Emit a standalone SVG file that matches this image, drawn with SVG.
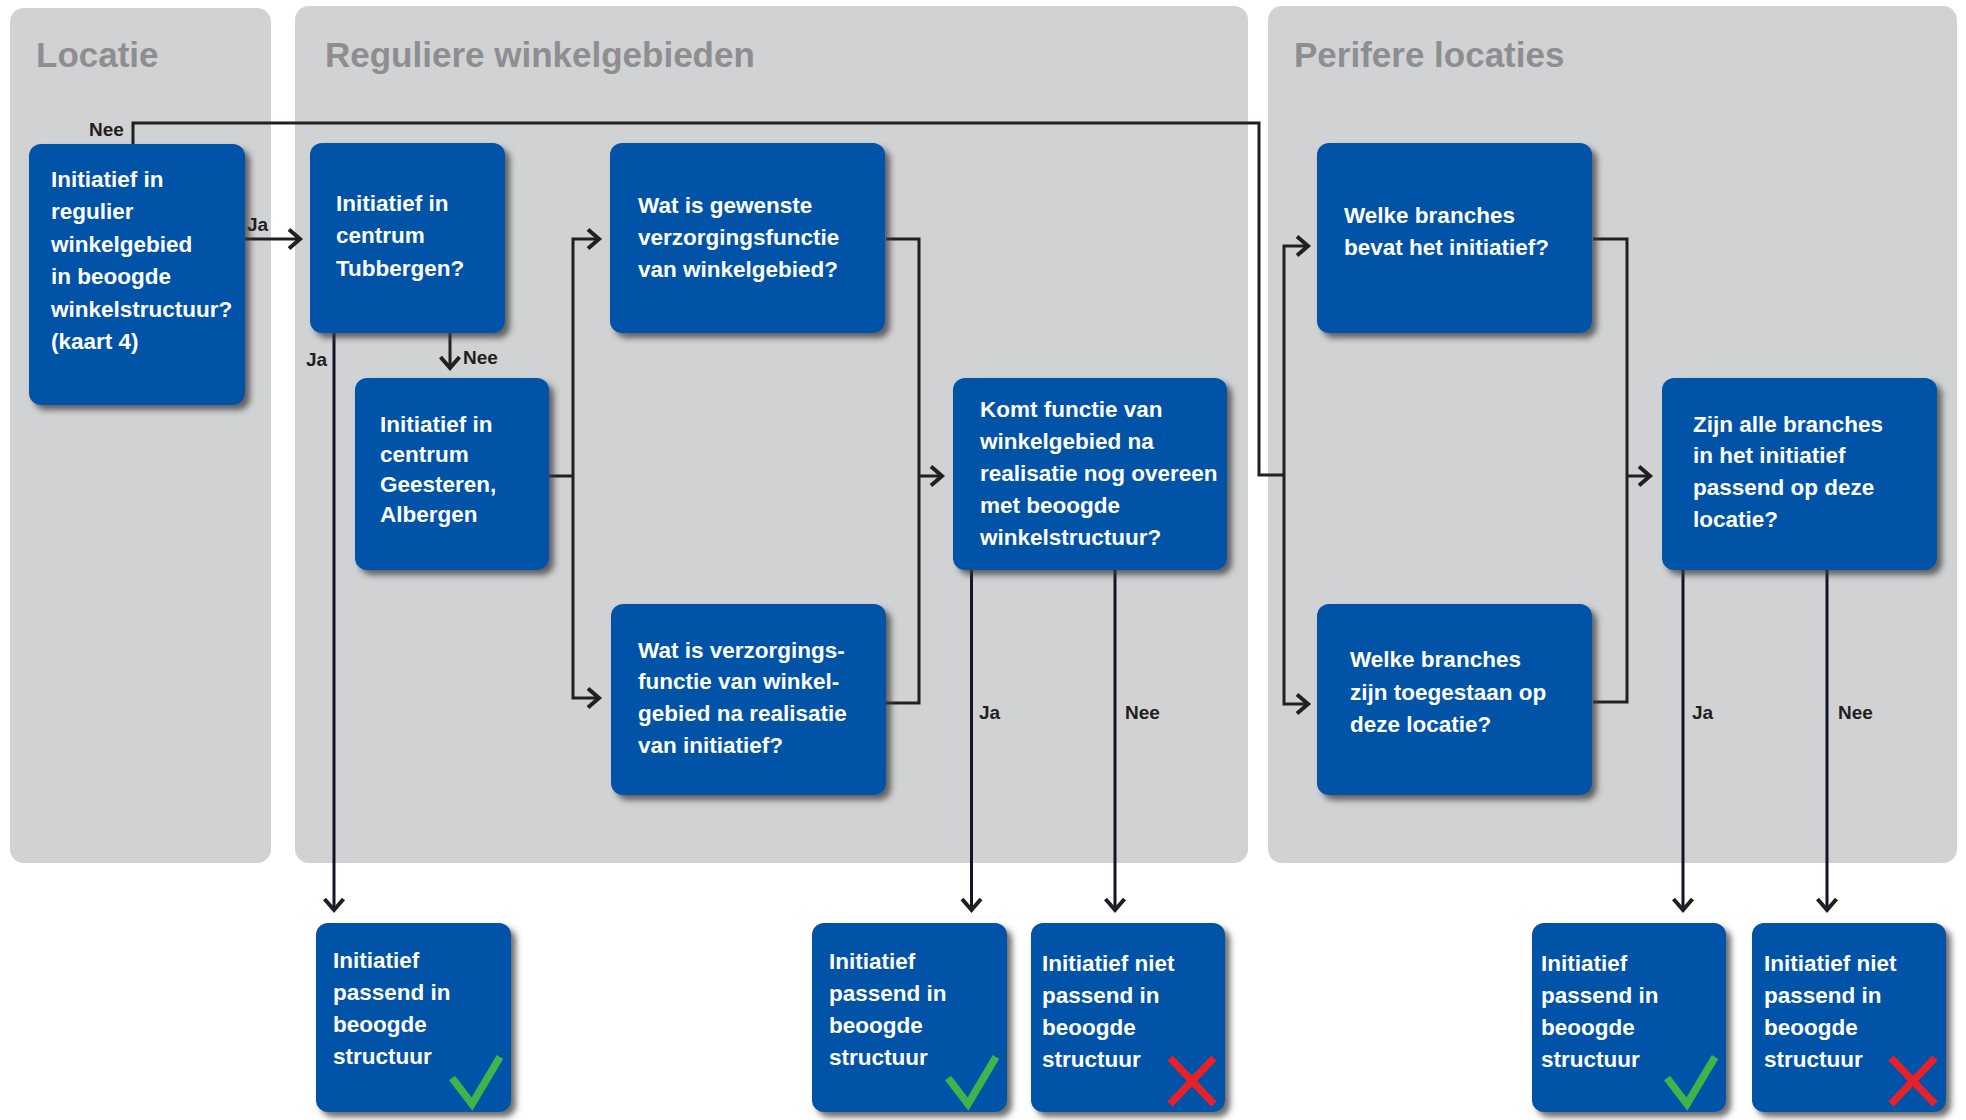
<svg xmlns="http://www.w3.org/2000/svg" width="1966" height="1120" viewBox="0 0 1966 1120">
<defs>
<style>
.panel{fill:#d1d2d4}
.title{font-family:"Liberation Sans",Arial,sans-serif;font-weight:bold;font-size:35px;fill:#8d8e90}
.box{fill:#0453a6;filter:url(#sh)}
.bt{font-family:"Liberation Sans",Arial,sans-serif;font-weight:bold;font-size:22.5px;fill:#ffffff}
.lbl{font-family:"Liberation Sans",Arial,sans-serif;font-weight:bold;font-size:19px;fill:#231f20}
.ln{fill:none;stroke:#231f20;stroke-width:3}
.lnd{fill:none;stroke:#15152a;stroke-width:3}
.arr{marker-end:url(#ah)}
.ok{fill:none;stroke:#3db54a;stroke-width:7.5;stroke-linejoin:miter}
.no{fill:none;stroke:#e6212a;stroke-width:7.5}
</style>
<filter id="sh" x="-10%" y="-10%" width="125%" height="125%">
<feDropShadow dx="5" dy="5" stdDeviation="3" flood-color="#3a3a3a" flood-opacity="0.75"/>
</filter>
<marker id="ah" viewBox="-14 -12 18 24" markerWidth="18" markerHeight="24" refX="0" refY="0" orient="auto-start-reverse" markerUnits="userSpaceOnUse">
<path d="M-11,-9.5 L0,0 L-11,9.5" fill="none" stroke="#231f20" stroke-width="4"/>
</marker>
<g id="check"><polyline class="ok" points="-59,-34 -39,-8 -11,-55"/></g>
<g id="cross"><path class="no" d="M-55,-54 L-11,-8 M-11,-54 L-55,-8"/></g>
</defs>

<g id="panels">
<rect class="panel" x="10" y="8" width="261" height="855" rx="14"/>
<rect class="panel" x="295" y="6" width="953" height="857" rx="14"/>
<rect class="panel" x="1268" y="6" width="689" height="857" rx="14"/>
<text class="title" x="36" y="67">Locatie</text>
<text class="title" x="325" y="67">Reguliere winkelgebieden</text>
<text class="title" x="1294" y="67">Perifere locaties</text>
</g>

<g id="connectors">
<path class="ln arr" d="M245,239 H300"/>
<text class="lbl" x="247" y="231">Ja</text>
<path class="ln" d="M133,144 V123 H1259 V475 H1284"/>
<text class="lbl" x="89" y="136">Nee</text>
<path class="lnd arr" d="M334,333 V910"/>
<text class="lbl" x="306" y="366">Ja</text>
<path class="ln arr" d="M450,333 V368"/>
<text class="lbl" x="463" y="364">Nee</text>
<path class="ln" d="M549,476 H573"/>
<path class="ln" d="M599,239 H573 V698 H599" marker-start="url(#ah)" marker-end="url(#ah)"/>
<path class="ln" d="M886,239 H919 V703 H886"/>
<path class="ln arr" d="M919,476 H942"/>
<path class="lnd arr" d="M971.5,570 V910"/>
<text class="lbl" x="979" y="719">Ja</text>
<path class="lnd arr" d="M1115,570 V910"/>
<text class="lbl" x="1125" y="719">Nee</text>
<path class="ln" d="M1308,246 H1284 V704 H1308" marker-start="url(#ah)" marker-end="url(#ah)"/>
<path class="ln" d="M1593,239 H1627 V702 H1593"/>
<path class="ln arr" d="M1627,476 H1650"/>
<path class="lnd arr" d="M1683,570 V910"/>
<text class="lbl" x="1692" y="719">Ja</text>
<path class="lnd arr" d="M1827,570 V910"/>
<text class="lbl" x="1838" y="719">Nee</text>
</g>

<g id="nodeA">
<rect class="box" x="29" y="144" width="216" height="261" rx="12"/>
<text class="bt"><tspan x="51" y="187">Initiatief in</tspan><tspan x="51" y="219">regulier</tspan><tspan x="51" y="252">winkelgebied</tspan><tspan x="51" y="284">in beoogde</tspan><tspan x="51" y="317">winkelstructuur?</tspan><tspan x="51" y="349">(kaart 4)</tspan></text>
</g>
<g id="nodeB">
<rect class="box" x="310" y="143" width="195" height="190" rx="12"/>
<text class="bt"><tspan x="336" y="211">Initiatief in</tspan><tspan x="336" y="243">centrum</tspan><tspan x="336" y="276">Tubbergen?</tspan></text>
</g>
<g id="nodeC">
<rect class="box" x="355" y="378" width="194" height="192" rx="12"/>
<text class="bt"><tspan x="380" y="432">Initiatief in</tspan><tspan x="380" y="462">centrum</tspan><tspan x="380" y="492">Geesteren,</tspan><tspan x="380" y="522">Albergen</tspan></text>
</g>
<g id="nodeD">
<rect class="box" x="610" y="143" width="275" height="190" rx="12"/>
<text class="bt"><tspan x="638" y="213">Wat is gewenste</tspan><tspan x="638" y="245">verzorgingsfunctie</tspan><tspan x="638" y="277">van winkelgebied?</tspan></text>
</g>
<g id="nodeE">
<rect class="box" x="611" y="604" width="275" height="191" rx="12"/>
<text class="bt"><tspan x="638" y="658">Wat is verzorgings-</tspan><tspan x="638" y="689">functie van winkel-</tspan><tspan x="638" y="721">gebied na realisatie</tspan><tspan x="638" y="753">van initiatief?</tspan></text>
</g>
<g id="nodeF">
<rect class="box" x="953" y="378" width="274" height="192" rx="12"/>
<text class="bt"><tspan x="980" y="417">Komt functie van</tspan><tspan x="980" y="449">winkelgebied na</tspan><tspan x="980" y="481">realisatie nog overeen</tspan><tspan x="980" y="513">met beoogde</tspan><tspan x="980" y="545">winkelstructuur?</tspan></text>
</g>
<g id="nodeG">
<rect class="box" x="1317" y="143" width="275" height="190" rx="12"/>
<text class="bt"><tspan x="1344" y="223">Welke branches</tspan><tspan x="1344" y="255">bevat het initiatief?</tspan></text>
</g>
<g id="nodeH">
<rect class="box" x="1317" y="604" width="275" height="191" rx="12"/>
<text class="bt"><tspan x="1350" y="667">Welke branches</tspan><tspan x="1350" y="700">zijn toegestaan op</tspan><tspan x="1350" y="732">deze locatie?</tspan></text>
</g>
<g id="nodeI">
<rect class="box" x="1662" y="378" width="275" height="192" rx="12"/>
<text class="bt"><tspan x="1693" y="432">Zijn alle branches</tspan><tspan x="1693" y="463">in het initiatief</tspan><tspan x="1693" y="495">passend op deze</tspan><tspan x="1693" y="527">locatie?</tspan></text>
</g>

<g id="result1">
<rect class="box" x="316" y="923" width="195" height="189" rx="12"/>
<text class="bt"><tspan x="333" y="968">Initiatief</tspan><tspan x="333" y="1000">passend in</tspan><tspan x="333" y="1032">beoogde</tspan><tspan x="333" y="1064">structuur</tspan></text>
<use href="#check" transform="translate(511,1112)"/>
</g>
<g id="result2">
<rect class="box" x="812" y="923" width="195" height="189" rx="12"/>
<text class="bt"><tspan x="829" y="969">Initiatief</tspan><tspan x="829" y="1001">passend in</tspan><tspan x="829" y="1033">beoogde</tspan><tspan x="829" y="1065">structuur</tspan></text>
<use href="#check" transform="translate(1007,1112)"/>
</g>
<g id="result3">
<rect class="box" x="1031" y="923" width="194" height="189" rx="12"/>
<text class="bt"><tspan x="1042" y="971">Initiatief niet</tspan><tspan x="1042" y="1003">passend in</tspan><tspan x="1042" y="1035">beoogde</tspan><tspan x="1042" y="1067">structuur</tspan></text>
<use href="#cross" transform="translate(1225,1112)"/>
</g>
<g id="result4">
<rect class="box" x="1532" y="923" width="194" height="189" rx="12"/>
<text class="bt"><tspan x="1541" y="971">Initiatief</tspan><tspan x="1541" y="1003">passend in</tspan><tspan x="1541" y="1035">beoogde</tspan><tspan x="1541" y="1067">structuur</tspan></text>
<use href="#check" transform="translate(1726,1112)"/>
</g>
<g id="result5">
<rect class="box" x="1752" y="923" width="194" height="189" rx="12"/>
<text class="bt"><tspan x="1764" y="971">Initiatief niet</tspan><tspan x="1764" y="1003">passend in</tspan><tspan x="1764" y="1035">beoogde</tspan><tspan x="1764" y="1067">structuur</tspan></text>
<use href="#cross" transform="translate(1946,1112)"/>
</g>
</svg>
